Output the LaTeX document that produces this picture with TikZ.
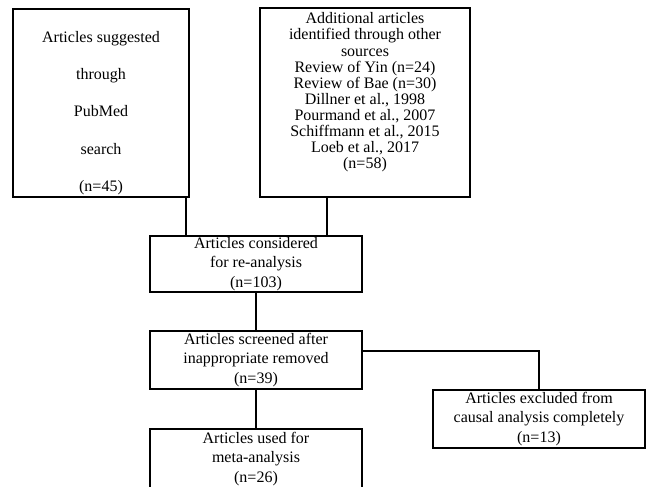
\documentclass[tikz,border=0pt]{standalone}
\usepackage{fontspec}
\setmainfont{Liberation Serif}
\begin{document}
\begin{tikzpicture}[
        x=0.75pt, y=-0.75pt,
        box/.style={draw, line width=1.2pt, inner sep=0pt, align=center,
          minimum width=159pt, minimum height=43.5pt,
          font=\fontsize{12}{14.5}\selectfont},
        boxtext/.style={align=center, inner sep=0pt},
        link/.style={line width=1.2pt}
      ]
      \useasboundingbox (0,0) rectangle (650,486);

      \node[box, minimum width=132pt, minimum height=141pt,
        label={[boxtext, font=\fontsize{12}{28}\selectfont, yshift=-7.5pt]center:
          Articles suggested\\through\\PubMed\\search\\(n=45)}] (search) at (101,103) {};
      \node[box, minimum width=157.5pt, minimum height=141.75pt,
        label={[boxtext, font=\fontsize{12}{12.1}\selectfont, yshift=7.5pt]center:
          Additional articles\\identified through other\\sources\\Review of Yin (n=24)\\
          Review of Bae (n=30)\\Dillner et al., 1998\\Pourmand et al., 2007\\
          Schiffmann et al., 2015\\Loeb et al., 2017\\(n=58)}] (other) at (365,102.5) {};

      \node[box, minimum height=42pt] (considered) at (256,264)
        {Articles considered\\for re-analysis\\(n=103)};
      \node[box] (screened) at (256,360)
        {Articles screened after\\inappropriate removed\\(n=39)};
      \node[box] (excluded) at (539,419)
        {Articles excluded from\\causal analysis completely\\(n=13)};
      \node[box, minimum height=45pt] (used) at (256,459)
        {Articles used for\\meta-analysis\\(n=26)};

      \coordinate (j1) at (186,236);
      \coordinate (j2) at (327,236);
      \coordinate (j3) at (539,351);

      \draw[link] (search.south -| j1) -- (j1);
      \draw[link] (other.south -| j2) -- (j2);
      \draw[link] (considered) -- (screened);
      \draw[link] (screened) -- (used);
      \draw[link] (screened.east |- j3) -- (j3) -- (excluded.north);
    \end{tikzpicture}
\end{document}
